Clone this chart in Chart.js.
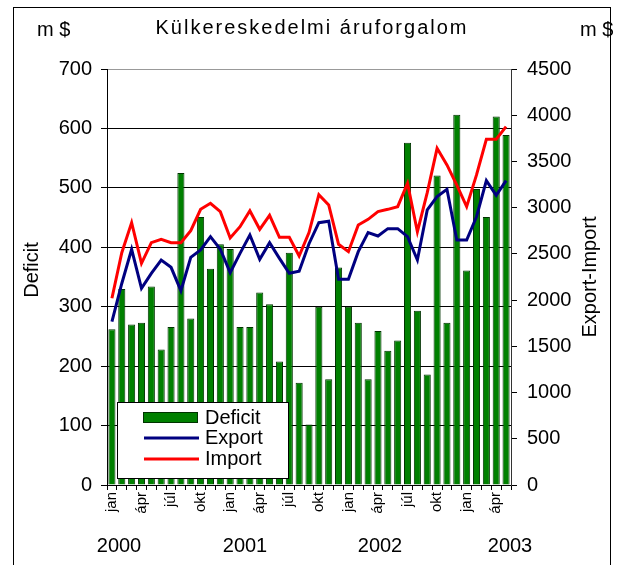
<!DOCTYPE html>
<html lang="hu">
<head>
<meta charset="UTF-8">
<title>Külkereskedelmi áruforgalom</title>
<script src="https://cdn.jsdelivr.net/npm/chart.js"></script>
<style>
    body { margin: 0; background: #fff; }
    #wrap { width: 625px; height: 565px; position: relative; }
</style>
</head>
<body>
<div id="wrap"><canvas id="chart"></canvas></div>
<script>
// monthly data, jan 2000 - máj 2003 (million $)
const monthNames = ['jan','febr','márc','ápr','máj','jún','júl','aug','szept','okt','nov','dec'];
const years = ['2000', '2001', '2002', '2003'];

const deficit = [
    262, 330, 270, 273, 334, 228, 266, 525, 280, 451, 364, 405,
    397, 266, 266, 324, 304, 208, 391, 172, 102, 300, 178, 366,
    300, 273, 178, 259, 226, 243, 576, 293, 186, 521, 273, 623,
    361, 498, 451, 620, 589
];
const exportVals = [
    1767, 2180, 2550, 2128, 2290, 2434, 2355, 2102, 2463, 2542, 2686, 2550,
    2297, 2506, 2704, 2441, 2621, 2452, 2290, 2312, 2610, 2838, 2853, 2225,
    2225, 2524, 2730, 2694, 2773, 2773, 2686, 2434, 2975, 3119, 3199, 2650,
    2650, 2902, 3292, 3134, 3292
];
const importVals = [
    2020, 2513, 2838, 2398, 2621, 2658, 2621, 2621, 2751, 2982, 3047, 2957,
    2672, 2794, 2967, 2766, 2917, 2680, 2680, 2477, 2730, 3141, 3029, 2604,
    2524, 2813, 2874, 2957, 2982, 3011, 3264, 2740, 3162, 3642, 3462, 3245,
    3011, 3354, 3740, 3740, 3876
];

const labels = deficit.map((d, i) => monthNames[i % 12]);

const FONT = 'Arial, "Liberation Sans", sans-serif';

// frame, titles, year labels and the boxed legend
const decor = {
    id: 'decor',
    afterDraw(chart) {
        const ctx = chart.ctx;
        ctx.save();
        ctx.strokeStyle = '#000';
        ctx.lineWidth = 1;
        ctx.strokeRect(13.5, 7.5, 597, 570);

        ctx.fillStyle = '#000';
        ctx.textBaseline = 'middle';
        ctx.font = '20px ' + FONT;
        ctx.textAlign = 'center';
        ctx.letterSpacing = '2px';
        ctx.fillText('Külkereskedelmi áruforgalom', 312, 28);
        ctx.letterSpacing = '0px';
        ctx.textAlign = 'left';
        ctx.fillText('m $', 37, 30);
        ctx.fillText('m $', 580, 30);

        ctx.textAlign = 'center';
        years.forEach((y, i) => {
            const xs = [119, 245, 380, 510];
            ctx.fillText(y, xs[i], 546);
        });

        ctx.save();
        ctx.translate(32, 270);
        ctx.rotate(-Math.PI / 2);
        ctx.fillText('Deficit', 0, 0);
        ctx.restore();
        ctx.save();
        ctx.translate(590, 277);
        ctx.rotate(-Math.PI / 2);
        ctx.fillText('Export-Import', 0, 0);
        ctx.restore();

        // legend box
        ctx.fillStyle = '#fff';
        ctx.fillRect(117, 402, 171, 76);
        ctx.strokeRect(117.5, 402.5, 171, 76);
        ctx.fillStyle = '#008000';
        ctx.fillRect(143, 412, 55, 11);
        ctx.strokeStyle = '#003300';
        ctx.strokeRect(143.5, 412.5, 54, 10);
        ctx.lineWidth = 3;
        ctx.strokeStyle = '#000080';
        ctx.beginPath(); ctx.moveTo(144, 438); ctx.lineTo(199, 438); ctx.stroke();
        ctx.strokeStyle = '#ff0000';
        ctx.beginPath(); ctx.moveTo(144, 459); ctx.lineTo(199, 459); ctx.stroke();
        ctx.fillStyle = '#000';
        ctx.textAlign = 'left';
        ctx.fillText('Deficit', 205, 418);
        ctx.fillText('Export', 205, 438);
        ctx.fillText('Import', 205, 459);
        ctx.restore();
    }
};

new Chart(document.getElementById('chart'), {
    data: {
        labels: labels,
        datasets: [
            {
                type: 'line',
                label: 'Import',
                data: importVals,
                yAxisID: 'y1',
                borderColor: '#ff0000',
                borderWidth: 3,
                pointRadius: 0,
                tension: 0,
                order: 0
            },
            {
                type: 'line',
                label: 'Export',
                data: exportVals,
                yAxisID: 'y1',
                borderColor: '#000080',
                borderWidth: 3,
                pointRadius: 0,
                tension: 0,
                order: 1
            },
            {
                type: 'bar',
                label: 'Deficit',
                data: deficit,
                yAxisID: 'y',
                backgroundColor: '#008000',
                borderColor: '#003300',
                borderWidth: 1,
                barPercentage: 0.72,
                categoryPercentage: 1,
                order: 2
            }
        ]
    },
    options: {
        responsive: true,
        maintainAspectRatio: false,
        animation: false,
        layout: { padding: { top: 69, left: 0, right: 0, bottom: 0 } },
        plugins: {
            legend: { display: false },
            tooltip: { enabled: false }
        },
        scales: {
            x: {
                afterFit: s => { s.height = 80; },
                grid: { drawOnChartArea: false, offset: true, tickLength: 5, color: '#000' },
                border: { color: '#000' },
                ticks: {
                    autoSkip: false,
                    minRotation: 90,
                    maxRotation: 90,
                    padding: 2,
                    color: '#000',
                    font: { family: FONT, size: 15 },
                    callback: (v, i) => (i % 3 === 0 ? labels[i] : '')
                }
            },
            y: {
                position: 'left',
                min: 0,
                max: 700,
                afterFit: s => { s.width = 107; },
                grid: {
                    color: ctx => (ctx.tick && ctx.tick.value === 700 ? '#999' : '#000'),
                    tickColor: '#000',
                    tickLength: 6
                },
                border: { color: '#000' },
                ticks: {
                    stepSize: 100,
                    padding: 9,
                    color: '#000',
                    font: { family: FONT, size: 20 }
                }
            },
            y1: {
                position: 'right',
                min: 0,
                max: 4500,
                afterFit: s => { s.width = 114; },
                grid: { drawOnChartArea: false, tickColor: '#000', tickLength: 6 },
                border: { color: '#333' },
                ticks: {
                    stepSize: 500,
                    padding: 10,
                    color: '#000',
                    font: { family: FONT, size: 20 },
                    callback: v => String(v)
                }
            }
        }
    },
    plugins: [decor]
});
</script>
</body>
</html>
